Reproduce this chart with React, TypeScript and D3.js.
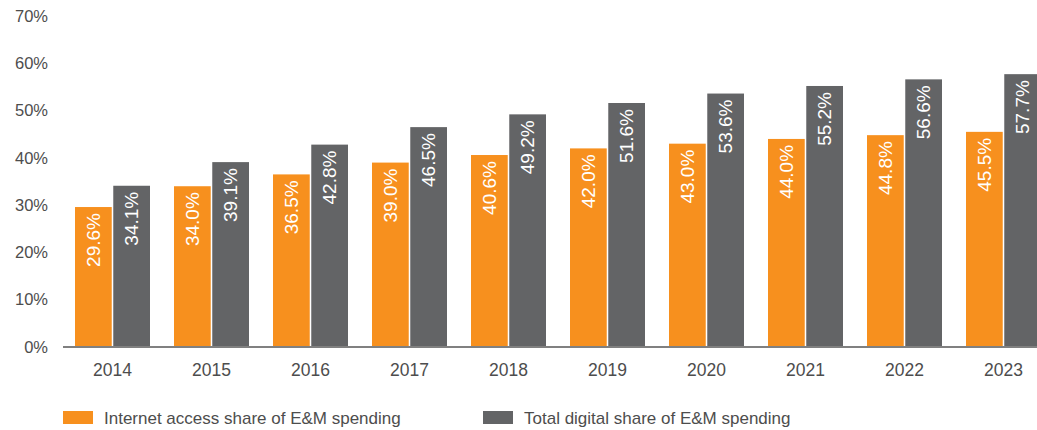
import { useEffect, useRef } from "react";
import * as d3 from "d3";

const years = ["2014", "2015", "2016", "2017", "2018", "2019", "2020", "2021", "2022", "2023"];
const internetShare = [29.6, 34.0, 36.5, 39.0, 40.6, 42.0, 43.0, 44.0, 44.8, 45.5];
const digitalShare = [34.1, 39.1, 42.8, 46.5, 49.2, 51.6, 53.6, 55.2, 56.6, 57.7];
const seriesNames = ["Internet access share of E&M spending", "Total digital share of E&M spending"];
const yTicks = [0, 10, 20, 30, 40, 50, 60, 70];

const colors = ["#f7901e", "#636466"];
const font = "'Liberation Sans', Arial, Helvetica, sans-serif";

const App = () => {
  const ref = useRef<SVGSVGElement>(null);

  useEffect(() => {
    const width = 1037;
    const height = 430;
    const left = 63;
    const right = 1053;
    const top = 16;
    const bottom = 347;

    const svg = d3.select(ref.current);
    svg.selectAll("*").remove();
    svg.attr("width", width).attr("height", height);

    const x = d3.scaleBand<string>()
      .domain(years)
      .range([left, right])
      .paddingInner(24 / 99)
      .paddingOuter(12 / 99);

    const xs = d3.scaleBand<number>()
      .domain([0, 1])
      .range([0, x.bandwidth()])
      .paddingInner(0.04);

    const y = d3.scaleLinear().domain([0, 70]).range([bottom, top]);

    // y tick labels
    svg.append("g")
      .selectAll("text")
      .data(yTicks)
      .join("text")
      .attr("x", 48)
      .attr("y", d => y(d))
      .attr("dy", "0.35em")
      .attr("text-anchor", "end")
      .attr("fill", "#4d4d4d")
      .style("font-family", font)
      .style("font-size", "16.5px")
      .text(d => `${d}%`);

    const series = [internetShare, digitalShare];

    series.forEach((vals, si) => {
      const g = svg.append("g");
      g.selectAll("rect")
        .data(vals)
        .join("rect")
        .attr("x", (_, i) => (x(years[i]) as number) + (xs(si) as number))
        .attr("y", d => y(d))
        .attr("width", xs.bandwidth())
        .attr("height", d => bottom - y(d))
        .attr("fill", colors[si]);

      g.selectAll("text")
        .data(vals)
        .join("text")
        .attr("transform", (d, i) => {
          const cx = (x(years[i]) as number) + (xs(si) as number) + xs.bandwidth() / 2;
          return `translate(${cx},${y(d) + 6}) rotate(-90)`;
        })
        .attr("dy", "0.36em")
        .attr("text-anchor", "end")
        .attr("fill", "#ffffff")
        .style("font-family", font)
        .style("font-size", "19px")
        .text(d => `${d.toFixed(1)}%`);
    });

    // x axis line
    svg.append("line")
      .attr("x1", left)
      .attr("x2", width)
      .attr("y1", bottom)
      .attr("y2", bottom)
      .attr("stroke", "#808080")
      .attr("stroke-width", 2);

    // year labels
    svg.append("g")
      .selectAll("text")
      .data(years)
      .join("text")
      .attr("x", d => (x(d) as number) + x.bandwidth() / 2)
      .attr("y", 376)
      .attr("text-anchor", "middle")
      .attr("fill", "#4d4d4d")
      .style("font-family", font)
      .style("font-size", "17.5px")
      .text(d => d);

    // legend
    const legendX = [63, 483];
    const legend = svg.append("g");
    seriesNames.forEach((name, i) => {
      legend.append("rect")
        .attr("x", legendX[i])
        .attr("y", 411)
        .attr("width", 30)
        .attr("height", 13)
        .attr("fill", colors[i]);
      legend.append("text")
        .attr("x", legendX[i] + 41)
        .attr("y", 424)
        .attr("fill", "#4d4d4d")
        .style("font-family", font)
        .style("font-size", "17px")
        .text(name);
    });
  }, []);

  return (
    <svg ref={ref} style={{ position: "absolute", left: 0, top: 0, display: "block" }}></svg>
  );
};

export default App;
